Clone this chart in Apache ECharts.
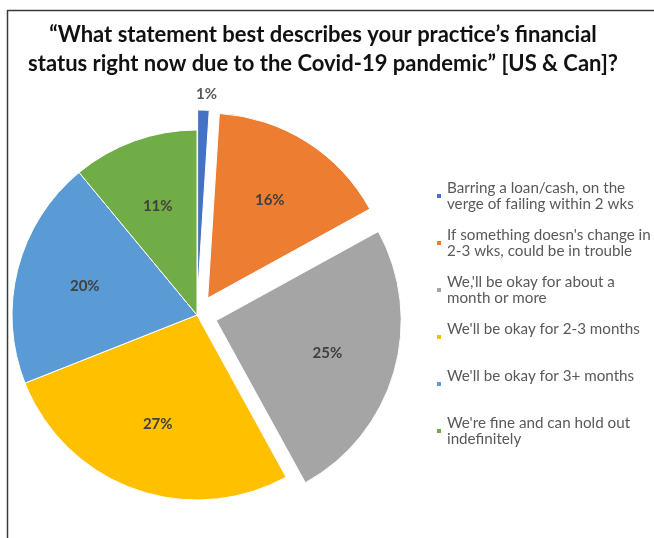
<!DOCTYPE html>
<html>
<head>
<meta charset="utf-8">
<script src="https://cdn.jsdelivr.net/npm/echarts@6/dist/echarts.min.js"></script>
<style>
  html, body { margin: 0; padding: 0; background: #ffffff; }
  #chart { width: 654px; height: 538px; }
</style>
</head>
<body>
<div id="chart"></div>
<script>
// Survey answers (legend wording, wrapped as shown) and their shares in percent
const categories = [
  "Barring a loan/cash, on the\nverge of failing within 2 wks",
  "If something doesn's change in\n2-3 wks, could be in trouble",
  "We,'ll be okay for about a\nmonth or more",
  "We'll be okay for 2-3 months",
  "We'll be okay for 3+ months",
  "We're fine and can hold out\nindefinitely"
];
const shares = [1, 16, 25, 27, 20, 11];

// Slice fills, and which slices are pulled out of the pie
const palette = ['#4472C4', '#ED7D31', '#A5A5A5', '#FFC000', '#5B9BD5', '#70AD47'];
const pulledOut = [0, 1, 2];

const FONT = 'Lato, "Open Sans", "Noto Sans", sans-serif';
const CENTER = [197, 315];
const RADIUS = 185;
const PULL = 20;

const chart = echarts.init(document.getElementById('chart'), null, { renderer: 'canvas' });

// Coloured slices; only the tiny first slice carries its label outside
const sliceData = categories.map((name, i) => ({
  name: name,
  value: shares[i],
  selected: pulledOut.includes(i),
  itemStyle: { color: palette[i] },
  label: i === 0
    ? { show: true, position: 'outside', distanceToLabelLine: -8 }
    : { show: false },
  labelLine: { show: false, length: 16, length2: 0 }
}));

// Transparent twin of the pie, used only to place the inner percentage labels
const labelData = categories.map((name, i) => ({
  name: name,
  value: shares[i],
  selected: pulledOut.includes(i),
  label: { show: i !== 0 }
}));

const option = {
  animation: false,
  backgroundColor: '#ffffff',
  title: {
    text: '\u201cWhat statement best describes your practice\u2019s financial\nstatus right now due to the Covid-19 pandemic\u201d [US & Can]?',
    left: 318,
    top: 15,
    textAlign: 'center',
    textStyle: {
      fontFamily: FONT,
      fontWeight: 'bold',
      fontSize: 22,
      lineHeight: 29,
      color: '#111111'
    }
  },
  legend: {
    orient: 'vertical',
    left: 430,
    top: 167,
    icon: 'rect',
    itemWidth: 6,
    itemHeight: 6,
    itemGap: -1,
    selectedMode: false,
    data: categories,
    formatter: n => (n.indexOf('\n') >= 0 ? n : n + '\n '),
    textStyle: {
      fontFamily: FONT,
      fontSize: 15.2,
      lineHeight: 16,
      color: '#595959',
      padding: [16, 0, 0, 0]
    }
  },
  graphic: [
    { type: 'line', silent: true, shape: { x1: 7.5, y1: 10, x2: 7.5, y2: 538 },
      style: { stroke: '#3a3a3a', lineWidth: 1.5 } },
    { type: 'line', silent: true, shape: { x1: 7, y1: 10.5, x2: 654, y2: 10.5 },
      style: { stroke: '#3a3a3a', lineWidth: 1.5 } }
  ],
  series: [
    {
      type: 'pie',
      center: CENTER,
      radius: RADIUS,
      startAngle: 90,
      clockwise: true,
      selectedMode: 'multiple',
      selectedOffset: PULL,
      avoidLabelOverlap: false,
      emphasis: { disabled: true },
      itemStyle: { borderColor: '#ffffff', borderWidth: 1 },
      label: {
        formatter: '{c}%',
        fontFamily: FONT,
        fontWeight: 'bold',
        fontSize: 15,
        color: '#595959'
      },
      data: sliceData
    },
    {
      type: 'pie',
      silent: true,
      center: CENTER,
      radius: RADIUS * 1.22,
      startAngle: 90,
      clockwise: true,
      selectedMode: 'multiple',
      selectedOffset: PULL,
      avoidLabelOverlap: false,
      emphasis: { disabled: true },
      itemStyle: { color: 'rgba(0,0,0,0)', borderWidth: 0 },
      label: {
        position: 'inside',
        formatter: '{c}%',
        fontFamily: FONT,
        fontWeight: 'bold',
        fontSize: 15,
        color: '#404040'
      },
      labelLine: { show: false },
      data: labelData
    }
  ]
};

chart.setOption(option);
</script>
</body>
</html>
